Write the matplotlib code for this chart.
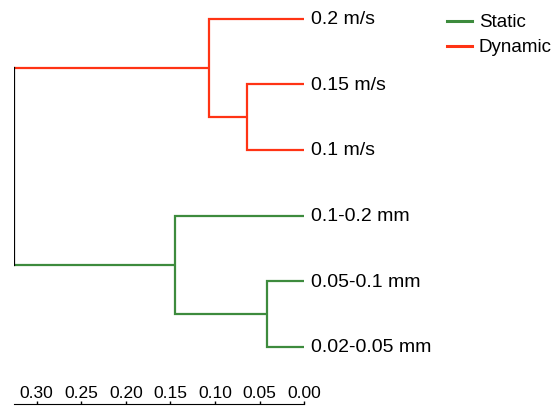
import matplotlib
matplotlib.use('Agg')
from matplotlib import pyplot as plt
from matplotlib.lines import Line2D

plt.rcParams['font.family'] = ['Liberation Sans', 'DejaVu Sans']

# leaves, top to bottom
leaf_labels = ['0.2 m/s', '0.15 m/s', '0.1 m/s',
               '0.1-0.2 mm', '0.05-0.1 mm', '0.02-0.05 mm']
# merges: (child a, child b, height); children are leaves 0-5 or earlier merges (6+)
merges = [(1, 2, 0.064),
          (0, 6, 0.107),
          (4, 5, 0.042),
          (3, 8, 0.145),
          (7, 9, 0.325)]
red = '#ff3314'
green = '#3d8b3d'
merge_colors = [red, red, green, green]
ticks = [0.30, 0.25, 0.20, 0.15, 0.10, 0.05, 0.00]
legend_labels = ['Static', 'Dynamic']
legend_colors = [green, red]

fig = plt.figure(figsize=(5.56, 4.08), dpi=100)
ax = fig.add_axes([14.3 / 556, 4.5 / 408, 290 / 556, 398.5 / 408])

n = len(leaf_labels)
node_y = [n - 1 - i for i in range(n)]
node_h = [0.0] * n
lw = 1.6
for (a, b, h), c in zip(merges[:-1], merge_colors):
    ya, yb = node_y[a], node_y[b]
    ax.plot([node_h[a], h, h, node_h[b]], [ya, ya, yb, yb],
            color=c, lw=lw, solid_joinstyle='miter', solid_capstyle='butt')
    node_y.append((ya + yb) / 2)
    node_h.append(h)

# root: arms keep their cluster colour, the joining bar is black
root_a, root_b, root_h = merges[-1]
ax.plot([node_h[root_a], root_h], [node_y[root_a]] * 2, color=red, lw=lw, solid_capstyle='butt')
ax.plot([node_h[root_b], root_h], [node_y[root_b]] * 2, color=green, lw=lw, solid_capstyle='butt')
ax.plot([root_h, root_h], [node_y[root_a], node_y[root_b]], color='black', lw=lw,
        solid_capstyle='projecting')

for i, lab in enumerate(leaf_labels):
    ax.annotate(lab, (0, n - 1 - i), xytext=(4.5, -0.5), textcoords='offset points',
                va='center', ha='left', fontsize=14, annotation_clip=False)

ax.set_xlim(0.325, 0)
ax.set_ylim(-0.86, 5.21)
ax.set_xticks(ticks)
ax.set_xticklabels(['%.2f' % t for t in ticks])
ax.set_yticks([])
for s in ['left', 'right', 'bottom']:
    ax.spines[s].set_visible(False)
ax.spines['top'].set_position(('axes', 0))
ax.xaxis.tick_top()
ax.tick_params(axis='x', direction='out', length=2.4, width=1, pad=-0.8, labelsize=12.5)
ax.patch.set_visible(False)

handles = [Line2D([], [], color=c, lw=2.2) for c in legend_colors]
fig.legend(handles, legend_labels, loc='upper left', bbox_to_anchor=(446.7 / 556, 1 - 14 / 408),
           frameon=False, fontsize=13.5, handlelength=1.36, handletextpad=0.35,
           borderpad=0, borderaxespad=0, labelspacing=0.42)

fig.savefig('out.png', dpi=100)
